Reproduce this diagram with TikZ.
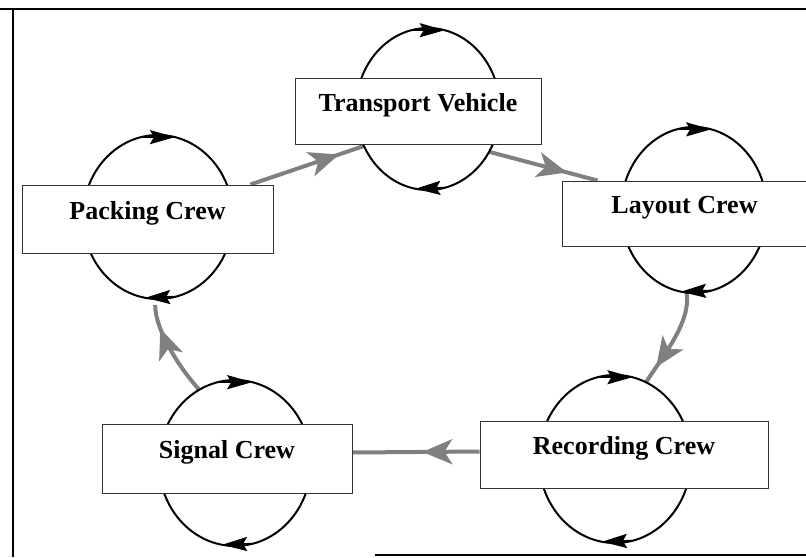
\documentclass[tikz,border=0pt]{standalone}
\usepackage{fontspec}
\setmainfont{Liberation Serif}
\usetikzlibrary{shapes.geometric,arrows.meta,decorations.markings,calc,backgrounds}
\begin{document}
\begin{tikzpicture}[x=1pt,y=-1pt,
  ring/.style={draw, ellipse, line width=2pt, inner sep=0pt, outer sep=0pt},
  crew/.style={draw=black!80, line width=1pt, fill=white, rectangle, inner sep=0pt,
    text height=20pt, text depth=20pt, font=\fontsize{26}{30}\selectfont\bfseries},
  cyc/.style={line width=2pt, -{Stealth[length=25pt,width=14pt,inset=4pt]}},
  flow/.style={draw=black!50, line width=4pt, postaction={decorate},
    decoration={markings, mark=at position #1 with {\arrow[black!50]{Stealth[length=30pt,width=25pt,inset=8pt]}}}},
]
\useasboundingbox (0,0) rectangle (806,557);

% frame
\draw[line width=2pt] (0,9) -- (806,9);
\draw[line width=1.5pt] (13,9) -- (13,557);
\draw[line width=2pt] (375,555) -- (806,555);

% rings
\node[ring, minimum width=144pt, minimum height=162pt] (tvring) at (428,109) {};
\node[ring, minimum width=150pt, minimum height=164pt] (packring) at (158,217) {};
\node[ring, minimum width=146pt, minimum height=166pt] (layring) at (694,210) {};
\node[ring, minimum width=152pt, minimum height=166pt] (sigring) at (235,463) {};
\node[ring, minimum width=152pt, minimum height=168pt] (recring) at (615,459) {};

\foreach \r in {tvring,packring,layring,sigring,recring}{
  \draw[cyc] (\r.102) -- (\r.78);
  \draw[cyc] (\r.-78) -- (\r.-99);
}

% boxes
\node[crew, minimum width=246pt, minimum height=66pt] (tv) at (418,111) {Transport Vehicle};
\node[crew, minimum width=251pt, minimum height=68pt] (pack) at (147.5,219) {Packing Crew};
\node[crew, minimum width=245pt, minimum height=65pt] (lay) at (684.5,213.5) {Layout Crew};
\node[crew, minimum width=250pt, minimum height=69pt] (sig) at (227,458.5) {Signal Crew};
\node[crew, minimum width=288pt, minimum height=67pt] (rec) at (624,454.5) {Recording Crew};

% flow arrows
\begin{scope}[on background layer]
\draw[flow=0.78] ($(pack.north east)+(-23,0)$) -- (tvring.210);
\draw[flow=0.72] (tvring.-35) -- ($(lay.north west)+(36,0)$);
\draw[flow=0.82] (layring.-95) .. controls +(4,30) and +(18,-28) .. (recring.68);
\draw[flow=0.45] ($(rec.west)+(0,-3)$) -- ($(sig.east)+(0,-6)$);
\draw[flow=0.75] (sigring.116) .. controls +(-20,-22) and +(0,25) .. ($(packring.-92)+(0,6)$);
\end{scope}
\end{tikzpicture}
\end{document}
